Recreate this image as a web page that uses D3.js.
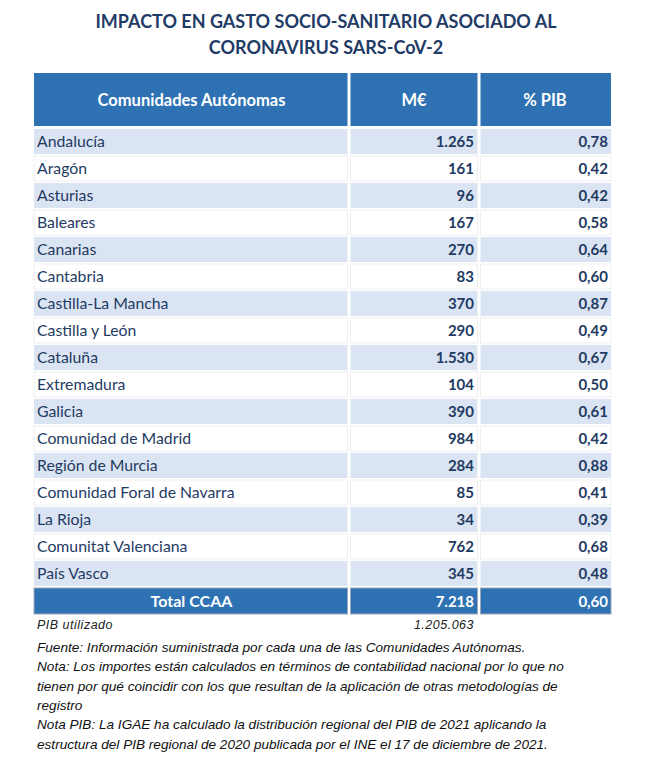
<!DOCTYPE html>
<html>
<head>
<meta charset="utf-8">
<script src="https://cdn.jsdelivr.net/npm/d3@7"></script>
<style>
  body { margin: 0; background: #fff; }
</style>
</head>
<body>
<div id="chart"></div>
<script>
const regions = ["Andalucía", "Aragón", "Asturias", "Baleares", "Canarias", "Cantabria",
  "Castilla-La Mancha", "Castilla y León", "Cataluña", "Extremadura", "Galicia",
  "Comunidad de Madrid", "Región de Murcia", "Comunidad Foral de Navarra", "La Rioja",
  "Comunitat Valenciana", "País Vasco"];
const millones = [1265, 161, 96, 167, 270, 83, 370, 290, 1530, 104, 390, 984, 284, 85, 34, 762, 345];
const pctPib = [0.78, 0.42, 0.42, 0.58, 0.64, 0.60, 0.87, 0.49, 0.67, 0.50, 0.61, 0.42, 0.88, 0.41, 0.39, 0.68, 0.48];
const headers = ["Comunidades Autónomas", "M€", "% PIB"];
const total = {label: "Total CCAA", me: 7218, pct: 0.60};
const pibUtilizado = 1205063;
const notes = [
  "Fuente: Información suministrada por cada una de las Comunidades Autónomas.",
  "Nota: Los importes están calculados en términos de contabilidad nacional por lo que no",
  "tienen por qué coincidir con los que resultan de la aplicación de otras metodologías de",
  "registro",
  "Nota PIB: La IGAE ha calculado la distribución regional del PIB de 2021 aplicando la",
  "estructura del PIB regional de 2020 publicada por el INE el 17 de diciembre de 2021."
];

const width = 650, height = 766;
const es = d3.formatLocale({decimal: ",", thousands: ".", grouping: [3], currency: ["", "€"]});
const fmtInt = es.format(",d");
const fmtPct = es.format(".2f");

const svg = d3.select("#chart").append("svg")
  .attr("width", width).attr("height", height)
  .style("font-family", "Lato, 'Open Sans', sans-serif");

const titleColor = "#1f3b66";
const textColor = "#1f3b63";
const headBlue = "#2e72b4";
const stripe = "#dbe4f2";

// title
svg.selectAll("text.title")
  .data(["IMPACTO EN GASTO SOCIO-SANITARIO ASOCIADO AL", "CORONAVIRUS SARS-CoV-2"])
  .enter().append("text")
  .attr("class", "title")
  .attr("x", width / 2 + 1)
  .attr("y", (d, i) => 28 + i * 26)
  .attr("text-anchor", "middle")
  .style("font", "bold 18px Lato, sans-serif")
  .style("fill", titleColor)
  .text(d => d);

// columns
const colEdges = [34, 349, 479, 611];
const cols = colEdges.slice(0, 3).map((x, i) => ({x0: x, x1: colEdges[i + 1]}));

const headTop = 73, headBottom = 126;
const y = d3.scaleBand()
  .domain(d3.range(regions.length + 1))
  .range([128, 614])
  .paddingInner(0);

// header
cols.forEach((c, i) => {
  svg.append("rect")
    .attr("x", c.x0 + (i ? 1.5 : 0)).attr("y", headTop)
    .attr("width", c.x1 - c.x0 - (i ? 1.5 : 0) - (i < 2 ? 1.5 : 0))
    .attr("height", headBottom - headTop)
    .style("fill", headBlue);
  svg.append("text")
    .attr("x", (c.x0 + c.x1) / 2)
    .attr("y", (headTop + headBottom) / 2 + 6)
    .attr("text-anchor", "middle")
    .style("font", "bold 16.5px Lato, sans-serif")
    .style("fill", "#fff")
    .text(headers[i]);
});

// body rows
const rows = regions.map((r, i) => ({name: r, me: millones[i], pct: pctPib[i]}));
const g = svg.append("g");
rows.forEach((d, i) => {
  const y0 = y(i), h = y.bandwidth();
  const fill = i % 2 === 0 ? stripe : "#fff";
  cols.forEach((c, j) => {
    g.append("rect")
      .attr("x", c.x0 + (j ? 1.5 : 0)).attr("y", y0 + 1)
      .attr("width", c.x1 - c.x0 - (j ? 1.5 : 0) - (j < 2 ? 1.5 : 0))
      .attr("height", h - 2)
      .style("fill", fill)
      .style("stroke", i % 2 === 0 ? "none" : "#ececec")
      .style("stroke-width", 0.8);
  });
  const ty = y0 + h / 2 + 5.5;
  g.append("text").attr("x", 37).attr("y", ty)
    .style("font", "15.8px Lato, sans-serif").style("fill", textColor)
    .text(d.name);
  g.append("text").attr("x", colEdges[2] - 5).attr("y", ty)
    .attr("text-anchor", "end")
    .style("font", "bold 15px Lato, sans-serif").style("fill", textColor)
    .text(fmtInt(d.me));
  g.append("text").attr("x", colEdges[3] - 3).attr("y", ty)
    .attr("text-anchor", "end")
    .style("font", "bold 15px Lato, sans-serif").style("fill", textColor)
    .text(fmtPct(d.pct));
});

// total row
const ti = regions.length;
const ty0 = y(ti) + 1, th = y.bandwidth() - 1;
cols.forEach((c, j) => {
  svg.append("rect")
    .attr("x", c.x0 + (j ? 1.5 : 0)).attr("y", ty0)
    .attr("width", c.x1 - c.x0 - (j ? 1.5 : 0) - (j < 2 ? 1.5 : 0))
    .attr("height", th)
    .style("fill", headBlue)
    .style("stroke", "#9aa9bb").style("stroke-width", 1);
});
const tty = ty0 + th / 2 + 5.5;
svg.append("text").attr("x", (cols[0].x0 + cols[0].x1) / 2).attr("y", tty)
  .attr("text-anchor", "middle")
  .style("font", "bold 16px Lato, sans-serif").style("fill", "#fff")
  .text(total.label);
svg.append("text").attr("x", colEdges[2] - 5).attr("y", tty)
  .attr("text-anchor", "end")
  .style("font", "bold 15px Lato, sans-serif").style("fill", "#fff")
  .text(fmtInt(total.me));
svg.append("text").attr("x", colEdges[3] - 3).attr("y", tty)
  .attr("text-anchor", "end")
  .style("font", "bold 15px Lato, sans-serif").style("fill", "#fff")
  .text(fmtPct(total.pct));

// PIB utilizado
svg.append("text").attr("x", 37).attr("y", 629)
  .style("font", "italic 12.5px 'Liberation Sans', Arial, sans-serif").style("fill", "#222")
  .style("letter-spacing", "0.5px")
  .text("PIB utilizado");
svg.append("text").attr("x", colEdges[2] - 5).attr("y", 629)
  .attr("text-anchor", "end")
  .style("font", "italic 12.5px 'Liberation Sans', Arial, sans-serif").style("fill", "#222")
  .style("letter-spacing", "0.5px")
  .text(fmtInt(pibUtilizado));

// notes
svg.selectAll("text.note")
  .data(notes)
  .enter().append("text")
  .attr("class", "note")
  .attr("x", 37)
  .attr("y", (d, i) => 652 + i * 19.3)
  .style("font", "italic 13.6px 'Liberation Sans', Arial, sans-serif")
  .style("fill", "#111")
  .text(d => d);
</script>
</body>
</html>
